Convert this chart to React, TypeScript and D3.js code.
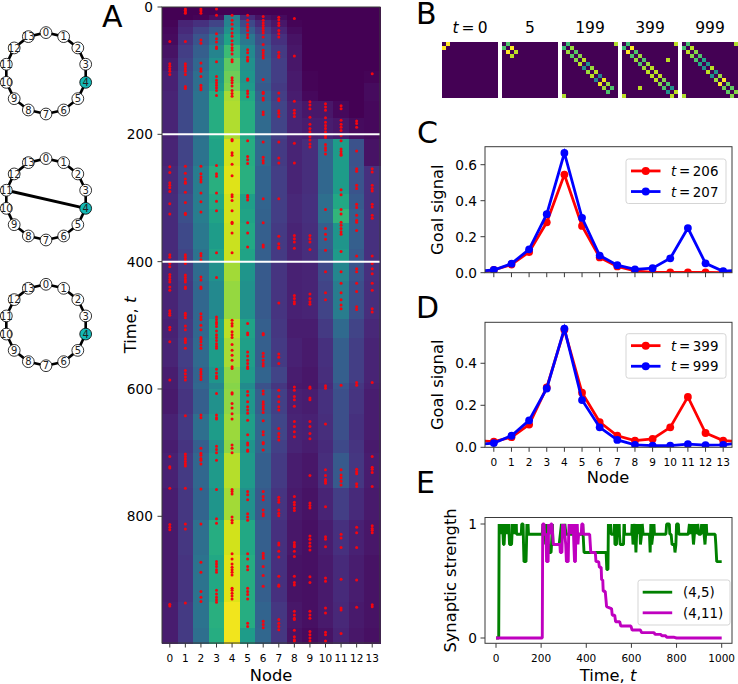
import React from "react";
import * as d3 from "d3";

const FONT = "'DejaVu Sans', sans-serif";
const nodes = d3.range(14);

// Panel A: goal signal per node (colour-normalised), band start times
const heatStarts = [0,12,21,32,42,60,80,100,120,132,148,175,200,207,250,293,318,340,380,400,430,490,520,565,590,600,640,680,700,755,806,860,935,975,1000];
const heatRows = [
[0,0,0,0,0,0,0,0,0,0,0,0,0,0],
[0,0,.01,.04,.42,.12,.05,.03,0,0,0,0,0,0],
[.01,.1,.14,.2,.45,.22,.12,.06,.01,0,0,0,0,0],
[.02,.12,.2,.28,.5,.3,.18,.1,.03,0,0,0,0,0],
[.03,.15,.26,.38,.58,.4,.24,.14,.05,0,0,0,0,0],
[.05,.18,.3,.45,.68,.47,.28,.17,.06,0,0,0,0,0],
[.07,.2,.33,.5,.75,.5,.3,.18,.06,0,0,0,0,0],
[.09,.22,.36,.52,.78,.52,.3,.18,.07,.01,0,0,0,.01],
[.09,.22,.36,.55,.8,.54,.28,.17,.07,.01,0,0,0,.03],
[.1,.22,.38,.62,.87,.6,.32,.18,.08,.02,0,0,0,.03],
[.1,.22,.38,.62,.88,.62,.34,.2,.1,.06,.06,.02,0,.02],
[.1,.22,.38,.62,.88,.62,.34,.2,.1,.08,.08,.06,.03,.02],
[.09,.2,.36,.6,.87,.6,.33,.18,.1,.09,.1,.08,.04,.03],
[.1,.2,.38,.58,.93,.62,.34,.17,.1,.13,.33,.55,.25,.05],
[.11,.22,.42,.63,.95,.63,.32,.18,.1,.13,.33,.55,.26,.14],
[.12,.24,.42,.6,.93,.56,.32,.18,.11,.14,.36,.6,.28,.14],
[.12,.24,.42,.58,.93,.58,.31,.18,.11,.14,.36,.66,.3,.14],
[.12,.22,.4,.55,.92,.6,.3,.17,.1,.13,.3,.52,.3,.14],
[.12,.2,.38,.58,.92,.58,.3,.17,.1,.13,.28,.54,.28,.14],
[.1,.17,.35,.5,.86,.52,.28,.15,.09,.1,.22,.46,.26,.14],
[.1,.16,.33,.47,.84,.5,.28,.15,.09,.1,.2,.42,.24,.13],
[.09,.17,.33,.56,.9,.58,.3,.16,.08,.08,.17,.34,.2,.11],
[.1,.18,.34,.55,.87,.56,.3,.17,.09,.07,.14,.3,.18,.1],
[.08,.17,.32,.52,.83,.54,.32,.2,.08,.06,.13,.3,.18,.1],
[.08,.17,.33,.46,.82,.48,.25,.16,.07,.06,.12,.26,.16,.09],
[.07,.15,.3,.5,.83,.53,.3,.19,.09,.08,.14,.24,.15,.08],
[.09,.17,.36,.55,.85,.56,.33,.21,.1,.09,.13,.24,.14,.08],
[.08,.15,.3,.5,.83,.52,.33,.19,.1,.08,.12,.22,.15,.07],
[.09,.17,.33,.54,.89,.54,.3,.17,.08,.06,.13,.28,.16,.08],
[.08,.16,.32,.52,.86,.5,.28,.15,.07,.05,.1,.18,.12,.07],
[.07,.16,.36,.62,.93,.6,.3,.14,.06,.04,.08,.14,.09,.06],
[.07,.15,.38,.6,.95,.62,.3,.14,.05,.04,.07,.12,.08,.05],
[.08,.17,.38,.63,.98,.62,.32,.16,.06,.04,.07,.11,.07,.05],
[.08,.17,.36,.62,.98,.55,.33,.16,.05,.03,.05,.1,.06,.04],
];

// Panel A: spike times per node
const spikeTimes = [
[54,89,93,97,101,106,251,260,276,280,284,290,309,325,389,393,403,408,420,424,428,432,440,445,477,481,484,503,507,526,586,706,722,724,756,813,817,821,938,941],
[3,5,8,10,54,89,93,97,101,106,125,128,250,261,270,275,277,291,307,324,326,389,393,397,403,421,425,429,432,440,442,481,484,488,501,507,521,524,527,536,571,576,581,586,642,702,706,710,714,718,721,756,812,820,936],
[3,6,10,52,57,88,97,101,109,123,127,130,250,262,267,271,275,292,306,322,387,391,397,424,429,440,442,482,487,491,500,507,519,522,526,531,536,569,573,577,581,585,641,645,693,701,704,709,712,718,757,812,872,888,918,927,934],
[3,13,42,50,55,63,65,86,109,115,119,123,127,131,139,249,262,266,292,305,320,386,425,487,491,495,498,502,509,515,519,524,529,533,536,569,575,580,583,607,641,645,647,690,695,700,712,758,804,811,871,875,879,884,888,916,922,927,931,935],
[13,21,27,34,41,46,53,59,64,68,74,83,86,111,115,119,124,131,136,140,208,210,229,233,247,265,295,298,304,320,338,340,355,386,492,497,501,510,515,519,530,539,547,555,565,568,606,608,623,630,639,647,688,693,700,758,761,765,801,806,810,859,867,875,880,884,888,892,913,916,921,925,930],
[13,21,27,32,37,43,48,67,72,79,83,85,113,115,132,136,141,210,235,240,246,296,299,303,339,355,377,497,512,515,542,548,555,560,565,568,604,610,620,628,633,638,649,672,685,688,696,698,761,766,774,796,801,806,859,867,879,884,913,918,923,930,968,973],
[15,21,25,29,33,37,41,47,59,68,72,76,80,114,134,136,143,146,165,169,212,236,241,245,301,339,374,377,513,515,544,549,555,560,564,603,608,620,624,628,632,637,650,667,672,684,686,696,761,769,774,790,796,799,858,862,866,879,893,910,965,970,975],
[16,20,25,29,37,42,47,71,76,79,135,144,147,163,167,172,212,237,245,301,360,372,377,379,465,545,550,560,602,612,620,628,633,662,670,675,680,770,774,778,790,795,799,842,845,855,864,894,908,910,962,968,973,978],
[18,77,148,162,167,172,214,245,359,364,369,379,453,458,463,466,597,602,612,617,627,651,659,667,675,769,778,782,787,791,841,845,848,855,863,894,904,908,949,955,960,962,979,989,994,996],
[149,154,160,173,184,191,196,204,209,215,220,359,364,369,381,451,458,463,467,597,599,614,617,651,659,670,678,736,779,783,787,831,836,842,847,853,895,904,949,955,960,981,986,991,996],
[152,157,162,174,181,186,191,196,202,205,216,221,225,231,318,348,357,365,382,416,449,460,595,599,655,727,736,742,745,748,785,832,836,848,897,902,944,952,982,986,996],
[155,160,178,184,189,194,202,210,223,227,231,233,287,295,318,325,338,343,348,353,357,384,416,434,449,460,468,474,594,727,735,740,745,751,828,834,849,899,944,947,984],
[179,183,189,226,254,258,280,285,310,315,327,335,338,351,391,411,416,434,447,471,475,590,594,726,730,733,749,753,817,826,849,900,943],
[105,254,259,280,285,289,310,314,327,332,391,403,411,419,434,445,474,479,590,706,723,726,731,753,815,819,822,826,939,942],
];

// Panel B: ring weights (edge i to i+1, last wraps 13 to 0), and the shortcut
const matrixTitles = ["0", "5", "199", "399", "999"];
const matrixEdges = [
[1,0,0,0,0,0,0,0,0,0,0,0,0,0],
[.72,1,.9,0,0,0,0,0,0,0,0,0,0,0],
[.68,.85,.74,.82,.9,.5,.85,.9,.45,.97,.85,.72,0,.88],
[.68,1,.72,.85,.72,.85,.9,.9,.9,.82,.72,.5,.9,.9],
[.7,.9,.82,.72,.6,.5,.9,.5,.85,1,.78,.75,.82,.88],
];
const matrixShortcut = [0, 0, 0, .9, 0];

// Panels C and D
const signal206 = [.015,.045,.115,.28,.545,.26,.085,.035,.01,.002,.002,.002,.002,0];
const signal207 = [.015,.05,.13,.325,.665,.305,.095,.042,.018,.025,.08,.248,.052,.008];
const signal399 = [.027,.048,.108,.285,.56,.26,.12,.055,.032,.04,.095,.24,.068,.032];
const signal999 = [.02,.055,.128,.28,.565,.225,.095,.035,.012,.008,.008,.015,.01,.012];
const ticksC = [0, .2, .4, .6];
const ticksD = [0, .2, .4];

// Panel E
const green45: [number, number][] = [[0,0],[12,0],[14,1],[15,.91],[16,1],[17,.91],[18,1],[19,.91],[20,1],[21,.91],[22,1],[23,.91],[24,1],[25,.91],[26,1],[27,.91],[28,1],[29,.91],[30,1],[31,.91],[33,.82],[36,.82],[38,.91],[39,1],[40,.91],[41,1],[42,.91],[43,1],[44,.91],[45,1],[46,.91],[47,1],[48,.91],[49,1],[50,.91],[51,1],[52,.91],[53,1],[54,.91],[55,1],[56,.91],[57,1],[58,.91],[60,.82],[69,.82],[71,.91],[72,1],[73,.91],[74,1],[75,.91],[76,1],[77,.91],[78,1],[79,.91],[80,1],[81,.91],[82,1],[83,.91],[84,1],[85,.91],[86,1],[87,.91],[88,1],[89,.91],[90,1],[91,.91],[112,.91],[114,1],[120,1],[122,.82],[124,.67],[133,.67],[135,.82],[137,1],[140,.91],[142,1],[144,.91],[205,.91],[208,1],[210,.91],[212,1],[214,.91],[216,1],[218,.91],[220,.82],[222,.91],[225,1],[228,.91],[232,.82],[236,.75],[244,.75],[246,.82],[248,.91],[250,1],[252,.82],[280,.82],[285,.91],[290,1],[295,.91],[305,1],[310,.91],[380,.91],[384,1],[386,.91],[390,.75],[488,.75],[491,.6],[496,.6],[498,1],[499,.91],[500,1],[501,.91],[502,1],[503,.91],[504,1],[505,.91],[506,1],[507,.91],[508,1],[510,.91],[523,.91],[525,1],[527,.82],[534,.82],[536,1],[537,.91],[538,1],[539,.91],[540,1],[541,.91],[542,1],[543,.91],[544,1],[545,.91],[546,1],[547,.91],[550,.82],[565,.82],[567,1],[568,.91],[569,1],[570,.91],[572,.91],[601,.91],[603,1],[605,.91],[607,.82],[611,.91],[615,1],[617,.91],[620,.75],[623,.91],[625,1],[626,.91],[627,1],[628,.91],[629,1],[630,.91],[631,1],[632,.91],[633,1],[634,.91],[635,1],[636,.91],[637,1],[640,.82],[645,.91],[648,1],[652,.91],[680,.91],[683,.75],[686,1],[687,.91],[688,1],[690,.82],[695,.91],[697,1],[699,.91],[700,1],[702,.91],[753,.91],[756,1],[768,1],[770,.91],[776,.91],[780,.82],[790,.82],[793,.75],[797,.82],[800,1],[808,1],[810,.91],[852,.91],[857,1],[858,.91],[859,1],[860,.91],[861,1],[862,.91],[863,1],[864,.91],[865,1],[866,.91],[867,1],[868,.91],[869,1],[872,.91],[875,.82],[879,.91],[881,1],[882,.91],[883,1],[884,.91],[885,1],[886,.91],[887,1],[888,.91],[889,1],[890,.91],[891,1],[892,.91],[894,1],[898,.91],[908,.91],[911,1],[912,.91],[913,1],[914,.91],[915,1],[916,.91],[917,1],[918,.91],[919,1],[922,.91],[926,.82],[929,.91],[932,1],[934,.91],[971,.91],[974,.82],[978,.67],[1000,.67]];
const magenta411: [number, number][] = [[0,0],[205,0],[207,1],[213,1],[215,.91],[222,.91],[224,.67],[231,.67],[233,1],[240,.91],[243,1],[248,1],[251,.91],[254,.82],[283,.82],[285,.75],[292,.75],[295,1],[298,.91],[302,1],[305,.91],[309,.82],[312,.67],[320,.67],[322,.91],[324,1],[325,.91],[326,1],[327,.91],[328,1],[329,.91],[330,1],[331,.91],[332,1],[333,.91],[334,1],[335,.91],[336,1],[337,.91],[338,1],[339,.91],[340,1],[341,.91],[342,1],[345,.82],[348,.67],[352,.67],[354,1],[355,.91],[356,1],[357,.91],[358,1],[359,.91],[360,1],[363,.82],[366,.91],[378,.91],[380,1],[385,1],[387,.91],[415,.91],[420,.75],[440,.75],[443,.67],[455,.67],[458,.62],[466,.62],[468,.51],[473,.51],[475,.41],[484,.41],[490,.275],[508,.26],[512,.26],[515,.2],[526,.2],[530,.143],[548,.143],[553,.105],[598,.105],[603,.07],[640,.07],[645,.047],[700,.047],[705,.032],[730,.032],[735,.02],[752,.02],[756,.006],[790,.006],[800,0],[1000,0]];
const ticksE = [0, 200, 400, 600, 800, 1000];

const axisColor = "#3a3a3a";
const labelSize = 16.3;
const yTickSize = 13.7;
const xTickSize = 10.5;

const Ring = ({ cy, shortcut }: { cy: number; shortcut?: boolean }) => {
  const cx = 46, r = 40.7;
  const angle = d3.scaleLinear().domain([0, 14]).range([0, 2 * Math.PI]);
  const px = (i: number) => cx + r * Math.sin(angle(i));
  const py = (i: number) => cy - r * Math.cos(angle(i));
  return (
    <g>
      {nodes.map((i) => (
        <line key={i} x1={px(i)} y1={py(i)} x2={px((i + 1) % 14)} y2={py((i + 1) % 14)} stroke="#000" strokeWidth={2.6} />
      ))}
      {shortcut && <line x1={px(4)} y1={py(4)} x2={px(11)} y2={py(11)} stroke="#000" strokeWidth={3} />}
      {nodes.map((i) => (
        <g key={i}>
          <circle cx={px(i)} cy={py(i)} r={5.9} fill={i === 4 ? "#14b8b6" : "#fff"} stroke="#000" strokeWidth={0.8} />
          <text x={px(i)} y={py(i) + 3.6} fontSize={10} textAnchor="middle" fill="#222">{i}</text>
        </g>
      ))}
    </g>
  );
};

const Heat = () => {
  const x = d3.scaleBand<number>().domain(nodes).range([162, 380]);
  const y = d3.scaleLinear().domain([0, 999]).range([7, 643]);
  return (
    <g>
      <g shapeRendering="crispEdges">
        {heatRows.map((row, ri) =>
          row.map((v, ci) => (
            <rect key={`${ri}-${ci}`} x={x(ci)} width={x.bandwidth() + 0.5} y={y(heatStarts[ri])} height={y(heatStarts[ri + 1]) - y(heatStarts[ri]) + 0.5} fill={d3.interpolateViridis(v)} />
          ))
        )}
      </g>
      {spikeTimes.map((ts, n) =>
        ts.map((t) => <circle key={`${n}-${t}`} cx={x(n)! + x.bandwidth() / 2} cy={y(t)} r={1.5} fill="#f5050f" />)
      )}
      {[200, 400].map((t) => (
        <line key={t} x1={162} x2={380} y1={y(t)} y2={y(t)} stroke="#fff" strokeWidth={2} />
      ))}
      <rect x={162} y={7} width={218} height={636} fill="none" stroke={axisColor} strokeWidth={1} />
      {[0, 200, 400, 600, 800].map((t) => (
        <g key={t}>
          <line x1={157.5} x2={162} y1={y(t)} y2={y(t)} stroke={axisColor} />
          <text x={153} y={y(t) + 5} fontSize={yTickSize} textAnchor="end">{t}</text>
        </g>
      ))}
      {nodes.map((n) => (
        <g key={n}>
          <line x1={x(n)! + x.bandwidth() / 2} x2={x(n)! + x.bandwidth() / 2} y1={643} y2={647.5} stroke={axisColor} />
          <text x={x(n)! + x.bandwidth() / 2} y={662} fontSize={xTickSize} textAnchor="middle">{n}</text>
        </g>
      ))}
      <text x={271} y={681} fontSize={labelSize} textAnchor="middle">Node</text>
      <text transform="translate(136,325) rotate(-90)" fontSize={labelSize} textAnchor="middle">Time, <tspan fontStyle="italic">t</tspan></text>
    </g>
  );
};

const Matrices = () => {
  const offsets = [442, 502, 562, 622, 682];
  const cell = d3.scaleBand<number>().domain(nodes).range([0, 56]);
  return (
    <g>
      {matrixEdges.map((edges, m) => {
        const cells: [number, number, number][] = [];
        edges.forEach((w, i) => {
          const j = (i + 1) % 14;
          if (w > 0) cells.push([i, j, w], [j, i, w]);
        });
        if (matrixShortcut[m] > 0) cells.push([4, 11, matrixShortcut[m]], [11, 4, matrixShortcut[m]]);
        return (
          <g key={m} transform={`translate(${offsets[m]},42)`}>
            <rect width={56} height={56} fill={d3.interpolateViridis(0)} />
            {cells.map(([r, c, w], k) => (
              <rect key={k} x={cell(c)} y={cell(r)} width={cell.bandwidth()} height={cell.bandwidth()} fill={d3.interpolateViridis(w)} />
            ))}
            <text x={28} y={-9} fontSize={15.5} textAnchor="middle">
              {m === 0 ? <><tspan fontStyle="italic">t</tspan>{"\u2009=\u2009"}</> : null}{matrixTitles[m]}
            </text>
          </g>
        );
      })}
    </g>
  );
};

const Legend = ({ x, y, h, items, hx, tx }: { x: number; y: number; h: number; items: { color: string; node: React.ReactNode; marker?: boolean }[]; hx: number; tx: number }) => (
  <g>
    <rect x={x} y={y} width={x === 638 ? 92 : 100} height={h} rx={2.5} fill="#fff" fillOpacity={0.8} stroke="#d0d0d0" strokeWidth={0.9} />
    {items.map((it, i) => {
      const ly = y + h / 2 - 10.3 + i * 20.6;
      return (
        <g key={i}>
          <line x1={hx} x2={hx + 29.5} y1={ly} y2={ly} stroke={it.color} strokeWidth={2.8} />
          {it.marker && <circle cx={hx + 14.75} cy={ly} r={4} fill={it.color} />}
          <text x={tx} y={ly + 5} fontSize={13.4}>{it.node}</text>
        </g>
      );
    })}
  </g>
);

const tLabel = (v: number) => <><tspan fontStyle="italic">t</tspan>{"\u2009=\u2009"}{v}</>;

const SignalPanel = ({ id, top, bottom, yMax, ticks, a, b, labels, colorA, colorB, showX, legendY }: any) => {
  const x = d3.scaleLinear().domain([-0.5, 13.5]).range([485, 732]);
  const y = d3.scaleLinear().domain([0, yMax]).range([bottom, top]);
  const wrap = (vals: number[]) => [vals[13], ...vals, vals[0]];
  const line = d3.line<number>().x((_, i) => x(i - 1)).y((v) => y(v));
  return (
    <g>
      <defs>
        <clipPath id={id}><rect x={485} y={top} width={247} height={bottom - top} /></clipPath>
      </defs>
      <g clipPath={`url(#${id})`}>
        {[{ v: a, c: colorA }, { v: b, c: colorB }].map(({ v, c }: any, si: number) => (
          <g key={si}>
            <path d={line(wrap(v))!} fill="none" stroke={c} strokeWidth={2.8} />
            {v.map((d: number, i: number) => <circle key={i} cx={x(i)} cy={y(d)} r={3.9} fill={c} />)}
          </g>
        ))}
      </g>
      <rect x={485} y={top} width={247} height={bottom - top} fill="none" stroke={axisColor} />
      {nodes.map((n) => (
        <g key={n}>
          <line x1={x(n)} x2={x(n)} y1={bottom} y2={bottom + 4.5} stroke={axisColor} />
          {showX && <text x={x(n)} y={bottom + 19} fontSize={xTickSize} textAnchor="middle">{n}</text>}
        </g>
      ))}
      {ticks.map((t: number) => (
        <g key={t}>
          <line x1={480.5} x2={485} y1={y(t)} y2={y(t)} stroke={axisColor} />
          <text x={477} y={y(t) + 5} fontSize={yTickSize} textAnchor="end">{t.toFixed(1)}</text>
        </g>
      ))}
      <text transform={`translate(443,${(top + bottom) / 2}) rotate(-90)`} fontSize={labelSize} textAnchor="middle">Goal signal</text>
      <Legend x={626} y={legendY} h={44.5} hx={631} tx={671} items={[{ color: colorA, node: tLabel(labels[0]), marker: true }, { color: colorB, node: tLabel(labels[1]), marker: true }]} />
    </g>
  );
};

const Strength = () => {
  const x = d3.scaleLinear().domain([0, 1000]).range([496, 721.7]);
  const y = d3.scaleLinear().domain([0, 1]).range([638, 524]);
  const line = d3.line<[number, number]>().x((d) => x(d[0])).y((d) => y(d[1]));
  return (
    <g>
      <path d={line(green45)!} fill="none" stroke="#008000" strokeWidth={2.9} strokeLinejoin="bevel" />
      <path d={line(magenta411)!} fill="none" stroke="#bf00bf" strokeWidth={2.9} strokeLinejoin="bevel" />
      <rect x={485} y={517.5} width={247} height={125.8} fill="none" stroke={axisColor} />
      {ticksE.map((t) => (
        <g key={t}>
          <line x1={x(t)} x2={x(t)} y1={643.3} y2={647.8} stroke={axisColor} />
          <text x={x(t)} y={662} fontSize={xTickSize} textAnchor="middle">{t}</text>
        </g>
      ))}
      {[0, 1].map((v) => (
        <g key={v}>
          <line x1={480.5} x2={485} y1={y(v)} y2={y(v)} stroke={axisColor} />
          <text x={477} y={y(v) + 5} fontSize={yTickSize} textAnchor="end">{v}</text>
        </g>
      ))}
      <text transform="translate(456,580.5) rotate(-90)" fontSize={labelSize} textAnchor="middle">Synaptic strength</text>
      <text x={608} y={681} fontSize={labelSize} textAnchor="middle">Time, <tspan fontStyle="italic">t</tspan></text>
      <Legend x={638} y={580} h={45} hx={642.7} tx={683} items={[{ color: "#008000", node: "(4,5)" }, { color: "#bf00bf", node: "(4,11)" }]} />
    </g>
  );
};

export default function App() {
  return (
    <svg width={738} height={684} viewBox="0 0 738 684" style={{ position: "absolute", left: 0, top: 0, display: "block", fontFamily: FONT }}>
      <rect width={738} height={684} fill="#fff" />
      <Ring cy={73.3} />
      <Ring cy={199.3} shortcut />
      <Ring cy={325} />
      <Heat />
      <Matrices />
      <SignalPanel id="clipC" top={146.7} bottom={272.7} yMax={0.7} ticks={ticksC} a={signal206} b={signal207} labels={[206, 207]} colorA="#ff0000" colorB="#0000ff" legendY={159} />
      <SignalPanel id="clipD" top={322.3} bottom={447.3} yMax={0.595} ticks={ticksD} a={signal399} b={signal999} labels={[399, 999]} colorA="#ff0000" colorB="#0000ff" showX legendY={333.7} />
      <text x={608} y={483} fontSize={labelSize} textAnchor="middle">Node</text>
      <Strength />
      <g fontSize={30}>
        <text x={102} y={27}>A</text>
        <text x={416} y={24}>B</text>
        <text x={417} y={143}>C</text>
        <text x={416} y={318}>D</text>
        <text x={416} y={493}>E</text>
      </g>
    </svg>
  );
}
